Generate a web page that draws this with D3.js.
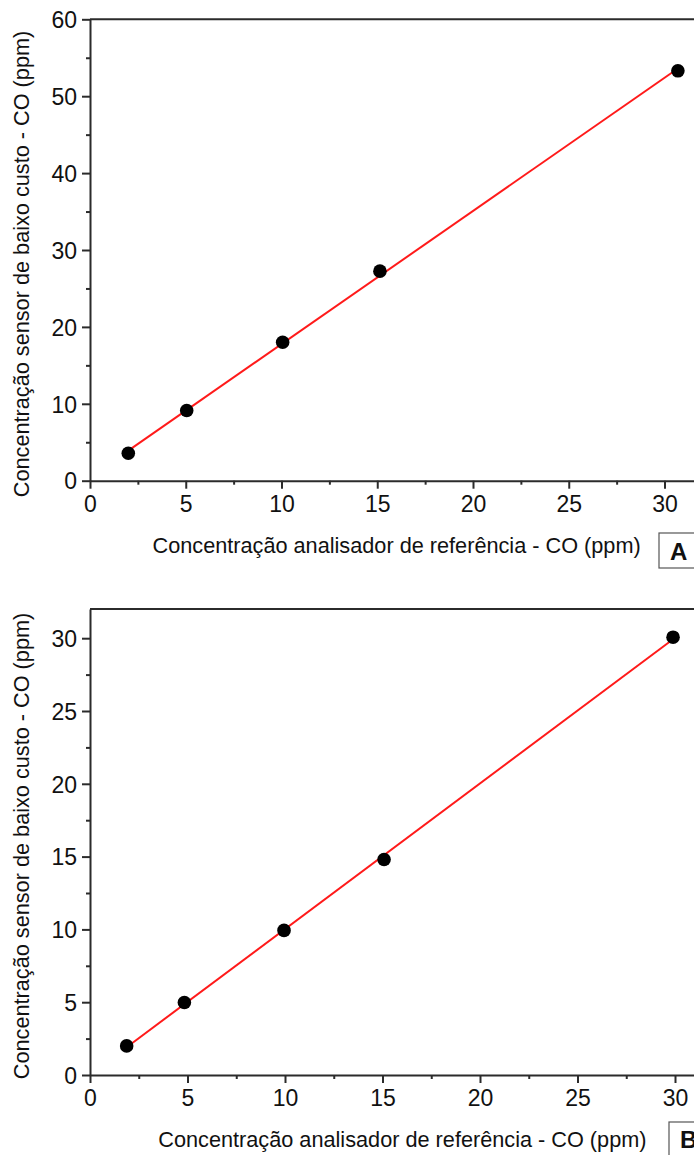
<!DOCTYPE html>
<html>
<head>
<meta charset="utf-8">
<script src="https://cdn.jsdelivr.net/npm/d3@7"></script>
<style>
  html, body { margin: 0; padding: 0; background: #fff; }
  svg { display: block; }
  text { font-family: "Liberation Sans", Arial, sans-serif; fill: #111; }
</style>
</head>
<body>
<svg id="chart" width="694" height="1155"></svg>
<script>
// Panel A: low-cost sensor vs reference analyser, CO (ppm)
const refA = [2.0, 5.05, 10.06, 15.14, 30.7];
const sensorA = [3.57, 9.13, 18.0, 27.25, 53.3];

// Panel B: after correction
const refB = [1.88, 4.84, 9.95, 15.08, 29.9];
const sensorB = [2.0, 4.98, 9.93, 14.8, 30.07];

const xTicks = [0, 5, 10, 15, 20, 25, 30];
const xMinor = [2.5, 7.5, 12.5, 17.5, 22.5, 27.5];
const yTicksA = [0, 10, 20, 30, 40, 50, 60];
const yMinorA = [5, 15, 25, 35, 45, 55];
const yTicksB = [0, 5, 10, 15, 20, 25, 30];
const yMinorB = [2.5, 7.5, 12.5, 17.5, 22.5, 27.5];

const xLabel = "Concentração analisador de referência - CO (ppm)";
const yLabel = "Concentração sensor de baixo custo - CO (ppm)";

const svg = d3.select("#chart");
const axisColor = "#2b2b2b";

function linearFit(xs, ys) {
  const n = xs.length;
  const mx = d3.mean(xs), my = d3.mean(ys);
  let sxy = 0, sxx = 0;
  for (let i = 0; i < n; i++) {
    sxy += (xs[i] - mx) * (ys[i] - my);
    sxx += (xs[i] - mx) * (xs[i] - mx);
  }
  const b = sxy / sxx;
  return { a: my - b * mx, b };
}

function panel(cfg) {
  const x = d3.scaleLinear().domain(cfg.xDomain).range(cfg.xRange);
  const y = d3.scaleLinear().domain(cfg.yDomain).range(cfg.yRange);
  const g = svg.append("g");

  // frame: top line and right side
  g.append("line")
    .attr("x1", x(cfg.xDomain[0])).attr("x2", x(cfg.xDomain[1]))
    .attr("y1", y(cfg.yDomain[1])).attr("y2", y(cfg.yDomain[1]))
    .attr("stroke", axisColor).attr("stroke-width", 2);
  g.append("line")
    .attr("x1", x(cfg.xDomain[1])).attr("x2", x(cfg.xDomain[1]))
    .attr("y1", y(cfg.yDomain[0])).attr("y2", y(cfg.yDomain[1]))
    .attr("stroke", axisColor).attr("stroke-width", 2);

  // minor ticks
  g.append("g").attr("transform", `translate(0,${y(cfg.yDomain[0])})`)
    .call(d3.axisBottom(x).tickValues(xMinor).tickSize(4).tickSizeOuter(0).tickFormat(""))
    .call(s => s.select(".domain").remove())
    .call(s => s.selectAll("line").attr("stroke", axisColor).attr("stroke-width", 2));
  g.append("g").attr("transform", `translate(${x(cfg.xDomain[0])},0)`)
    .call(d3.axisLeft(y).tickValues(cfg.yMinor).tickSize(4).tickSizeOuter(0).tickFormat(""))
    .call(s => s.select(".domain").remove())
    .call(s => s.selectAll("line").attr("stroke", axisColor).attr("stroke-width", 2));

  // major axes
  g.append("g").attr("transform", `translate(0,${y(cfg.yDomain[0])})`)
    .call(d3.axisBottom(x).tickValues(xTicks).tickSize(8).tickSizeOuter(0))
    .call(s => s.select(".domain").attr("stroke", axisColor).attr("stroke-width", 2))
    .call(s => s.selectAll(".tick line").attr("stroke", axisColor).attr("stroke-width", 2))
    .call(s => s.selectAll(".tick text")
      .attr("y", 31).attr("dy", 0)
      .attr("font-size", 23).attr("font-family", "Liberation Sans, Arial, sans-serif")
      .attr("fill", "#111"));
  g.append("g").attr("transform", `translate(${x(cfg.xDomain[0])},0)`)
    .call(d3.axisLeft(y).tickValues(cfg.yTicks).tickSize(8).tickSizeOuter(0))
    .call(s => s.select(".domain").attr("stroke", axisColor).attr("stroke-width", 2))
    .call(s => s.selectAll(".tick line").attr("stroke", axisColor).attr("stroke-width", 2))
    .call(s => s.selectAll(".tick text")
      .attr("x", -13).attr("dy", "0.36em")
      .attr("font-size", 23).attr("font-family", "Liberation Sans, Arial, sans-serif")
      .attr("fill", "#111"));

  // fitted line
  const fit = linearFit(cfg.xs, cfg.ys);
  const x0 = d3.min(cfg.xs), x1 = d3.max(cfg.xs);
  g.append("line")
    .attr("x1", x(x0)).attr("y1", y(fit.a + fit.b * x0))
    .attr("x2", x(x1)).attr("y2", y(fit.a + fit.b * x1))
    .attr("stroke", "#ff1a1a").attr("stroke-width", 2);

  // points
  g.selectAll("circle.pt").data(cfg.xs.map((v, i) => [v, cfg.ys[i]]))
    .join("circle").attr("class", "pt")
    .attr("cx", d => x(d[0])).attr("cy", d => y(d[1]))
    .attr("r", 6.8).attr("fill", "#000");

  // axis titles
  g.append("text")
    .attr("x", cfg.xTitle[0]).attr("y", cfg.xTitle[1])
    .attr("font-size", 21.7)
    .text(xLabel);
  g.append("text")
    .attr("transform", `translate(${cfg.yTitle[0]},${cfg.yTitle[1]}) rotate(-90)`)
    .attr("text-anchor", "middle")
    .attr("font-size", 21.7)
    .text(yLabel);

  // panel letter
  g.append("rect")
    .attr("x", cfg.box[0]).attr("y", cfg.box[1])
    .attr("width", cfg.box[2]).attr("height", cfg.box[3])
    .attr("fill", "#fff").attr("stroke", "#555").attr("stroke-width", 1.2);
  g.append("text")
    .attr("x", cfg.box[0] + 11).attr("y", cfg.letterY)
    .attr("font-size", 24).attr("font-weight", "bold")
    .text(cfg.letter);
}

panel({
  xs: refA, ys: sensorA,
  xDomain: [0, 32], xRange: [90, 90 + 32 * 19.15],
  yDomain: [0, 60], yRange: [480.7, 19.3],
  yTicks: yTicksA, yMinor: yMinorA,
  xTitle: [152.5, 553], yTitle: [29, 264],
  box: [659, 533, 60, 35], letter: "A", letterY: 559.5
});

panel({
  xs: refB, ys: sensorB,
  xDomain: [0, 32], xRange: [90, 90 + 32 * 19.5],
  yDomain: [0, 32], yRange: [1075, 1075 - 32 * 14.56],
  yTicks: yTicksB, yMinor: yMinorB,
  xTitle: [158.3, 1147], yTitle: [29, 846],
  box: [669, 1122, 60, 50], letter: "B", letterY: 1147.5
});
</script>
</body>
</html>
